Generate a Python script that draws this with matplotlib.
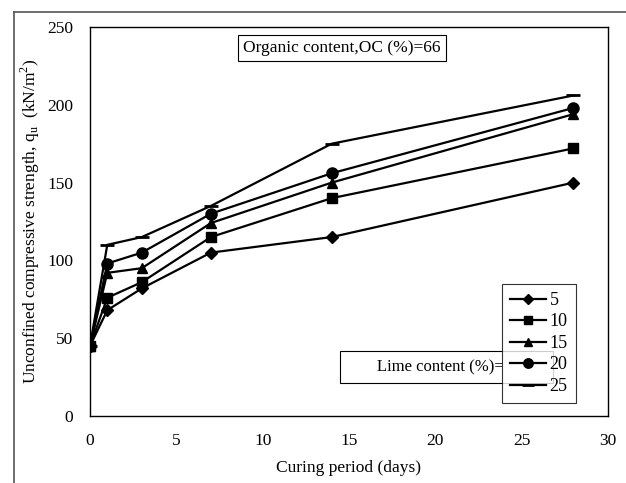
import matplotlib
matplotlib.use("Agg")
import matplotlib.pyplot as plt
from matplotlib.lines import Line2D

plt.rcParams['font.family'] = ['Liberation Serif', 'DejaVu Serif']
plt.rcParams['mathtext.fontset'] = 'custom'
plt.rcParams['mathtext.rm'] = 'Liberation Serif'

days = [0, 1, 3, 7, 14, 28]
lime_5 = [45, 68, 82, 105, 115, 150]
lime_10 = [45, 76, 86, 115, 140, 172]
lime_15 = [45, 92, 95, 124, 150, 194]
lime_20 = [45, 98, 105, 130, 156, 198]
lime_25 = [45, 110, 115, 135, 175, 206]
labels = ['5', '10', '15', '20', '25']
markers = ['D', 's', '^', 'o', '_']
sizes = [6, 7, 7, 8, 10]

fig = plt.figure(figsize=(6.26, 4.83), dpi=100)
ax = fig.add_axes([90/626, 1 - 416/483, 518/626, 389/483])

for y, lab, m, ms in zip([lime_5, lime_10, lime_15, lime_20, lime_25], labels, markers, sizes):
    ax.plot(days, y, color='black', lw=1.6, marker=m, ms=ms, mew=2 if m == '_' else 1, label=lab)

ax.set_xlim(0, 30)
ax.set_ylim(0, 250)
ax.set_xticks([0, 5, 10, 15, 20, 25, 30])
ax.set_yticks([0, 50, 100, 150, 200, 250])
ax.tick_params(length=0, labelsize=12.5)
ax.tick_params(axis='x', pad=12)
ax.tick_params(axis='y', pad=12)
for s in ax.spines.values():
    s.set_linewidth(1.0)
ax.set_xlabel('Curing period (days)', fontsize=12.5, labelpad=8)
ax.set_ylabel(r'Unconfined compressive strength, q$_\mathregular{u}$  (kN/m$^\mathregular{2}$)',
              fontsize=12.5)
ax.yaxis.set_label_coords(-(90 - 42) / 518, 0.5)

ax.text((342 - 90) / 518, 1 - (48 - 27) / 389, 'Organic content,OC (%)=66',
        transform=ax.transAxes, ha='center', va='center', fontsize=12.5,
        bbox=dict(boxstyle='square,pad=0.3', fc='white', ec='black', lw=0.8))

ax.text((348 - 90) / 518, 1 - (367 - 27) / 389, '       Lime content (%)=          ',
        transform=ax.transAxes, ha='left', va='center', fontsize=12,
        bbox=dict(boxstyle='square,pad=0.5', fc='white', ec='black', lw=0.8))

leg = ax.legend(loc='lower right', bbox_to_anchor=((576 - 90) / 518, (416 - 403) / 389),
                frameon=True, fancybox=False, edgecolor='black', fontsize=13,
                handlelength=2.0, handletextpad=0.2, labelspacing=0.25, borderpad=0.45,
                borderaxespad=0, markerscale=0.85)
leg.get_frame().set_linewidth(0.8)
leg.set_zorder(6)

fig.add_artist(Line2D([14/626, 1], [1 - 12/483, 1 - 12/483], color='#555555', lw=1.2))
fig.add_artist(Line2D([14/626, 14/626], [0, 1 - 12/483], color='#555555', lw=1.2))

fig.savefig('out.png', dpi=100)
